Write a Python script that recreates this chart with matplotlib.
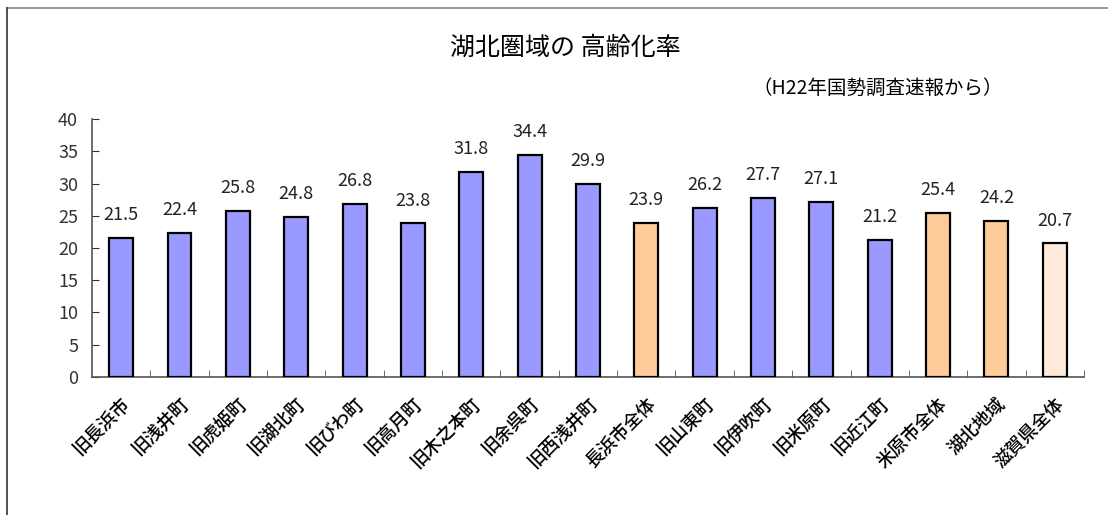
import matplotlib
matplotlib.use("Agg")
import matplotlib.pyplot as plt
from matplotlib.lines import Line2D

plt.rcParams['font.family'] = ['Noto Sans CJK JP', 'DejaVu Sans']

# data
areas = ["旧長浜市", "旧浅井町", "旧虎姫町", "旧湖北町", "旧びわ町", "旧高月町",
         "旧木之本町", "旧余呉町", "旧西浅井町", "長浜市全体", "旧山東町",
         "旧伊吹町", "旧米原町", "旧近江町", "米原市全体", "湖北地域", "滋賀県全体"]
rates = [21.5, 22.4, 25.8, 24.8, 26.8, 23.8, 31.8, 34.4, 29.9, 23.9,
         26.2, 27.7, 27.1, 21.2, 25.4, 24.2, 20.7]
kind = ["town"] * 9 + ["city"] + ["town"] * 4 + ["city", "city", "pref"]

colors = {"town": "#9999FF", "city": "#FFCC99", "pref": "#FDEADA"}

fig = plt.figure(figsize=(11.08, 5.15), dpi=100)
ax = fig.add_axes([0.083, 0.268, 0.8953, 0.5009])

x = range(len(areas))
bars = ax.bar(x, rates, width=0.41, color=[colors[k] for k in kind],
              edgecolor="black", linewidth=1.6, zorder=3)

for xi, v in zip(x, rates):
    ax.annotate(f"{v:.1f}", (xi, v), xytext=(0, 10), textcoords="offset points",
                ha="center", va="bottom", fontsize=13, color="#222222")

ax.set_xlim(-0.5, len(areas) - 0.5)
ax.set_ylim(0, 40)
ax.set_yticks(range(0, 41, 5))
ax.tick_params(axis="y", direction="in", length=5, labelsize=13, pad=10, colors="#333333")

# category ticks sit between bars
ax.set_xticks([i + 0.5 for i in range(len(areas))], minor=True)
ax.set_xticks(list(x))
ax.set_xticklabels(areas, rotation=45, ha="right", rotation_mode="anchor",
                   fontsize=13, fontweight="medium")
ax.tick_params(axis="x", which="major", length=0, pad=13)
ax.tick_params(axis="x", which="minor", direction="in", length=5, color="#555555")

for s in ["top", "right"]:
    ax.spines[s].set_visible(False)
for s in ["left", "bottom"]:
    ax.spines[s].set_color("#555555")
    ax.spines[s].set_linewidth(1.2)

fig.text(0.51, 0.908, "湖北圏域の 高齢化率", ha="center", va="center", fontsize=18)
fig.text(0.792, 0.829, "（H22年国勢調査速報から）", ha="center", va="center", fontsize=14)

# chart area frame (top and left edges visible)
fig.add_artist(Line2D([0.006, 1.0], [0.985, 0.985], color="#888888", linewidth=1.2))
fig.add_artist(Line2D([0.0065, 0.0065], [0.0, 0.985], color="#333333", linewidth=1.2))

fig.savefig("out.png", dpi=100)
